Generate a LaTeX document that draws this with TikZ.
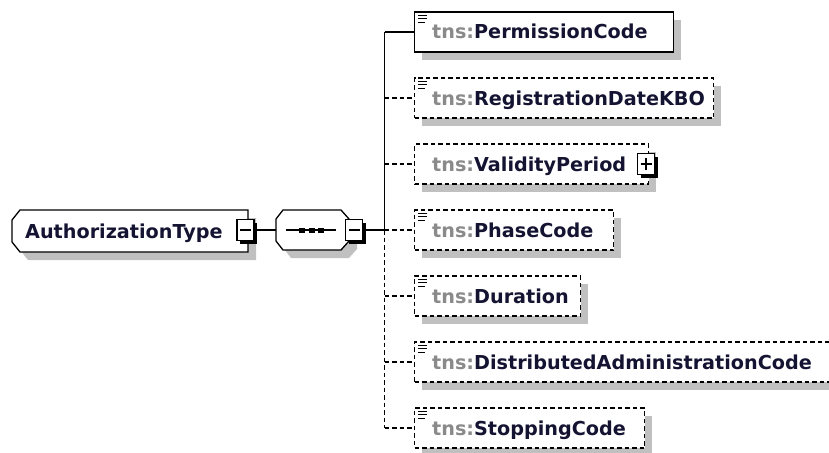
\documentclass[tikz,border=0pt]{standalone}
\usepackage{fontspec}
\setmainfont{DejaVu Sans}
\usetikzlibrary{calc}
\definecolor{shadowgray}{HTML}{C0C0C0}
\definecolor{prefgray}{HTML}{8A8A8A}
\definecolor{namecol}{HTML}{141432}
\newcommand{\tnsp}{\textcolor{prefgray}{tns:}}
\begin{document}
\begin{tikzpicture}[x=1pt,y=-1pt,
  ln/.style={line width=1.3pt, draw=black},
  dashln/.style={ln, dash pattern=on 4.5pt off 3pt},
  shadowbox/.style={draw=none, fill=shadowgray, inner sep=0, minimum height=40, anchor=west},
  reqbox/.style={ln, fill=white, inner sep=0, minimum height=40, anchor=west},
  optbox/.style={reqbox, dash pattern=on 4.5pt off 3pt},
  lbl/.style={inner sep=0, anchor=base west, font=\fontsize{19.2}{23}\selectfont\bfseries, text=namecol},
  icon/.style={line width=1.1pt, draw=black},
  pmbox/.style={draw=black, fill=white, line width=1.2pt, inner sep=0, minimum width=17, minimum height=21},
  pmshadow/.style={fill=black, draw=none, inner sep=0, minimum width=17, minimum height=21},
]
\useasboundingbox (0,0) rectangle (829,452);

% ---------- AuthorizationType ----------
\fill[shadowgray] (28,218) -- (256,218) -- (256,260) -- (28,260) -- (20,250) -- (20,228) -- cycle;
\draw[ln, fill=white] (20,210) -- (248,210) -- (248,252) -- (20,252) -- (12,242) -- (12,220) -- cycle;
\node[inner sep=0, minimum width=236, minimum height=42] (atbox) at (130,231) {};
\node[lbl] (at) at (25,238) {AuthorizationType};
\node[pmshadow] (m1s) at (248.5,233) {};
\node[pmbox] (m1) at (245.5,230) {};
\draw[ln] ($(m1.center)+(-5.5,0)$) -- ($(m1.center)+(5.5,0)$);

% ---------- sequence ----------
\fill[shadowgray] (291,218) -- (349,218) -- (357,227) -- (357,249) -- (349,258) -- (291,258) -- (284,249) -- (284,227) -- cycle;
\draw[ln, fill=white] (283,210) -- (341,210) -- (349,219) -- (349,241) -- (341,250) -- (283,250) -- (276,241) -- (276,219) -- cycle;
\node[inner sep=0, minimum width=73, minimum height=40] (seq) at (312.5,230) {};
\draw[ln] (286,230) -- (336,230);
\fill[black] (299,227.5) rectangle (305,232.5);
\fill[black] (308.5,227.5) rectangle (314.5,232.5);
\fill[black] (318,227.5) rectangle (324,232.5);
\node[pmshadow] (m2s) at (357,233) {};
\node[pmbox] (m2) at (354,230) {};
\draw[ln] ($(m2.center)+(-5.5,0)$) -- ($(m2.center)+(5.5,0)$);

% ---------- bus coordinates ----------
\coordinate (b1) at (384.5,32);
\coordinate (b2) at (384.5,98);
\coordinate (b3) at (384.5,164);
\coordinate (b4) at (384.5,230);
\coordinate (b5) at (384.5,296);
\coordinate (b6) at (384.5,362);
\coordinate (b7) at (384.5,428);

% ---------- elements ----------
\node[shadowbox, minimum width=259] (pcs) at (422,40) {};
\node[reqbox, minimum width=259] (pc) at (414,32) {};
\node[lbl] (pct) at (432,39) {\tnsp PermissionCode};

\node[shadowbox, minimum width=299] (rds) at (422,106) {};
\node[optbox, minimum width=299] (rd) at (414,98) {};
\node[lbl] (rdt) at (432,105) {\tnsp RegistrationDateKBO};

\node[shadowbox, minimum width=234] (vps) at (422,172) {};
\node[optbox, minimum width=234] (vp) at (414,164) {};
\node[lbl] (vpt) at (432,171) {\tnsp ValidityPeriod};
\node[pmshadow] (pls) at (649,167) {};
\node[pmbox] (pl) at (646,164) {};
\draw[ln] ($(pl.center)+(-5.5,0)$) -- ($(pl.center)+(5.5,0)$);
\draw[ln] ($(pl.center)+(0,-6)$) -- ($(pl.center)+(0,6)$);

\node[shadowbox, minimum width=199] (phs) at (422,238) {};
\node[optbox, minimum width=199] (ph) at (414,230) {};
\node[lbl] (pht) at (432,237) {\tnsp PhaseCode};

\node[shadowbox, minimum width=166] (dus) at (422,304) {};
\node[optbox, minimum width=166] (du) at (414,296) {};
\node[lbl] (dut) at (432,303) {\tnsp Duration};

\node[shadowbox, minimum width=420] (das) at (422,370) {};
\node[optbox, minimum width=420] (da) at (414,362) {};
\node[lbl] (dat) at (432,369) {\tnsp DistributedAdministrationCode};

\node[shadowbox, minimum width=230] (scs) at (422,436) {};
\node[optbox, minimum width=230] (sc) at (414,428) {};
\node[lbl] (sct) at (432,435) {\tnsp StoppingCode};

% ---------- simple-content icons ----------
\foreach \n in {pc,rd,ph,du,da,sc}{
  \fill[white] ($(\n.north west)+(3,2)$) rectangle ($(\n.north west)+(14,12.5)$);
  \draw[icon] ($(\n.north west)+(4,4)$) -- +(9,0)
              ($(\n.north west)+(4,7.5)$) -- +(9,0)
              ($(\n.north west)+(4,11)$) -- +(7,0);
}

% ---------- connectors ----------
\draw[ln] (m1.east) -- (seq.west);
\draw[ln] (m2.east) -- (b4);
\draw[ln] (b1) -- (b4);
\draw[dashln] (b4) -- (b7);
\draw[ln] (b1) -- (pc.west);
\draw[dashln] (b2) -- (rd.west);
\draw[dashln] (b3) -- (vp.west);
\draw[dashln] (b4) -- (ph.west);
\draw[dashln] (b5) -- (du.west);
\draw[dashln] (b6) -- (da.west);
\draw[dashln] (b7) -- (sc.west);
\end{tikzpicture}
\end{document}
